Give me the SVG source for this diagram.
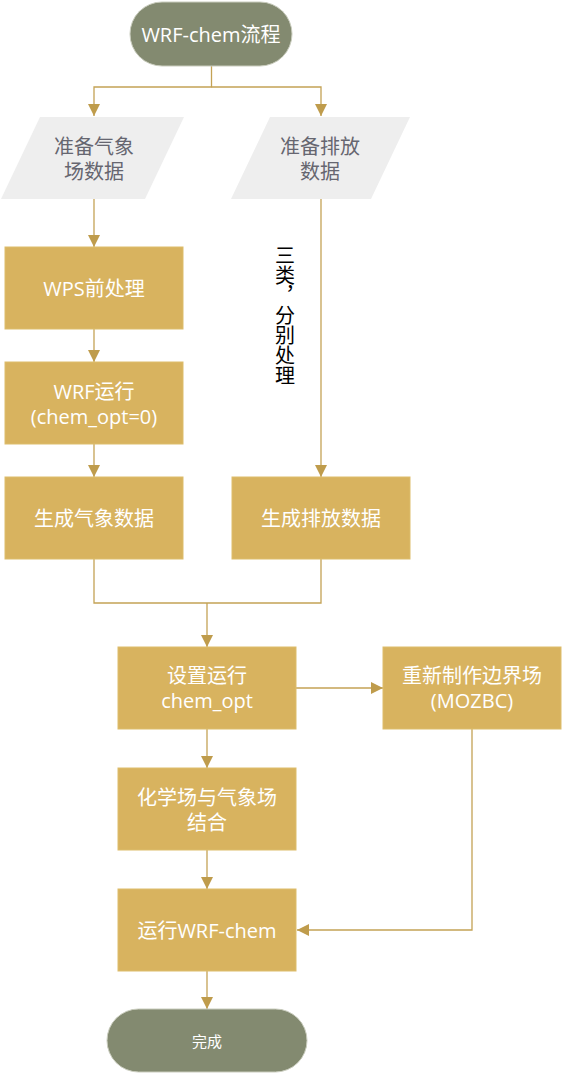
<svg xmlns="http://www.w3.org/2000/svg" width="563" height="1074" viewBox="0 0 563 1074">
<defs>
<style>
.t{font-family:'Open Sans','Noto Sans CJK SC',sans-serif;font-size:20px;text-anchor:middle;dominant-baseline:central}
.v{font-family:'Noto Sans CJK SC',sans-serif;font-size:20px;writing-mode:vertical-rl;fill:#000000}
.w{fill:#ffffff}
.g{fill:#666670}
.box{fill:#D8B35F;stroke:#DDBD6C;stroke-width:1}
.pill{fill:#838A70;stroke:#C9CCBD;stroke-width:1}
.para{fill:#EEEEEE}
.ln{fill:none;stroke:#C4A255;stroke-width:1.3}
</style>
<marker id="arr" viewBox="0 0 12 12" refX="12" refY="6" markerWidth="12" markerHeight="12" orient="auto" markerUnits="userSpaceOnUse">
<path d="M0,0 L12,6 L0,12 z" fill="#BF9C4C"/>
</marker>
</defs>
<rect width="563" height="1074" fill="#ffffff"/>
<g id="connectors">
<path class="ln" d="M211.5,66 V87 H94 V116" marker-end="url(#arr)"/>
<path class="ln" d="M211.5,87 H321 V116" marker-end="url(#arr)"/>
<path class="ln" d="M94,199 V247" marker-end="url(#arr)"/>
<path class="ln" d="M94,329 V362" marker-end="url(#arr)"/>
<path class="ln" d="M94,444 V477" marker-end="url(#arr)"/>
<path class="ln" d="M321,199 V477" marker-end="url(#arr)"/>
<path class="ln" d="M94,559 V603 H321 V559"/>
<path class="ln" d="M207,603 V647" marker-end="url(#arr)"/>
<path class="ln" d="M296,688 H383" marker-end="url(#arr)"/>
<path class="ln" d="M207,729 V768" marker-end="url(#arr)"/>
<path class="ln" d="M207,850 V889" marker-end="url(#arr)"/>
<path class="ln" d="M472,729 V930 H297" marker-end="url(#arr)"/>
<path class="ln" d="M207,971 V1009" marker-end="url(#arr)"/>
<text class="v" x="285" y="245">三类，分别处理</text>
</g>
<g id="start">
<rect class="pill" x="130" y="2" width="162" height="64" rx="32"/>
<text class="t w" x="211" y="34">WRF-chem流程</text>
</g>
<g id="prep-met">
<polygon class="para" points="40,117 184,117 145,199 1,199"/>
<text class="t g"><tspan x="94" y="145.5">准备气象</tspan><tspan x="94" y="170.5">场数据</tspan></text>
</g>
<g id="prep-emis">
<polygon class="para" points="270,117 410,117 371,199 231,199"/>
<text class="t g"><tspan x="320" y="145.5">准备排放</tspan><tspan x="320" y="170.5">数据</tspan></text>
</g>
<g id="wps">
<rect class="box" x="5" y="247" width="178" height="82"/>
<text class="t w" x="94" y="288">WPS前处理</text>
</g>
<g id="wrf">
<rect class="box" x="5" y="362" width="178" height="82"/>
<text class="t w"><tspan x="94" y="390.5">WRF运行</tspan><tspan x="94" y="415.5">(chem_opt=0)</tspan></text>
</g>
<g id="met-data">
<rect class="box" x="5" y="477" width="178" height="82"/>
<text class="t w" x="94" y="518">生成气象数据</text>
</g>
<g id="emis-data">
<rect class="box" x="232" y="477" width="178" height="82"/>
<text class="t w" x="321" y="518">生成排放数据</text>
</g>
<g id="set-chem">
<rect class="box" x="118" y="647" width="178" height="82"/>
<text class="t w"><tspan x="207" y="674.5">设置运行</tspan><tspan x="207" y="699.5">chem_opt</tspan></text>
</g>
<g id="mozbc">
<rect class="box" x="383" y="647" width="178" height="82"/>
<text class="t w"><tspan x="472" y="674.5">重新制作边界场</tspan><tspan x="472" y="699.5">(MOZBC)</tspan></text>
</g>
<g id="combine">
<rect class="box" x="118" y="768" width="178" height="82"/>
<text class="t w"><tspan x="207" y="796.5">化学场与气象场</tspan><tspan x="207" y="821.5">结合</tspan></text>
</g>
<g id="run">
<rect class="box" x="118" y="889" width="178" height="82"/>
<text class="t w" x="207" y="930">运行WRF-chem</text>
</g>
<g id="end">
<rect class="pill" x="107" y="1009" width="200" height="63" rx="31.5"/>
<text class="t w" x="207" y="1041" style="font-size:15px">完成</text>
</g>
</svg>
